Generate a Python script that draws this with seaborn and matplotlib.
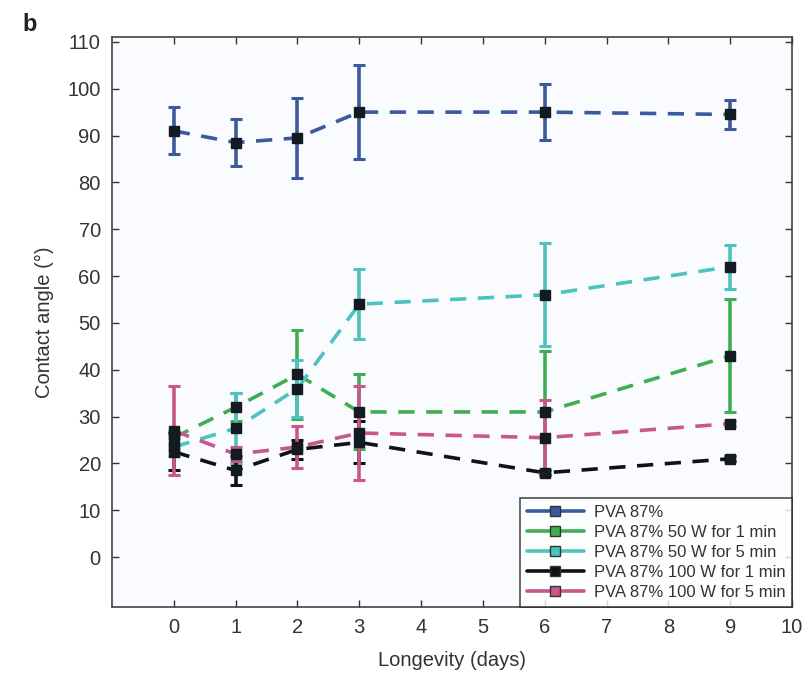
import matplotlib
matplotlib.use("Agg")
import matplotlib.pyplot as plt
from matplotlib.lines import Line2D
import seaborn as sns
import pandas as pd

# Contact angle over storage time for each treatment
days = [0, 1, 2, 3, 6, 9]
series_names = [
    "PVA 87%",
    "PVA 87% 50 W for 1 min",
    "PVA 87% 50 W for 5 min",
    "PVA 87% 100 W for 1 min",
    "PVA 87% 100 W for 5 min",
]
pva = [91, 88.5, 89.5, 95, 95, 94.5]
pva_err = [5, 5, 8.5, 10, 6, 3]
w50_1 = [25.5, 32, 39, 31, 31, 43]
w50_1_err = [1.5, 3, 9.5, 8, 13, 12]
w50_5 = [23.5, 27.5, 36, 54, 56, 62]
w50_5_err = [2, 7.5, 6, 7.5, 11, 4.7]
w100_1 = [22.5, 18.5, 23, 24.5, 18, 21]
w100_1_err = [4, 3, 2, 4.5, 0.5, 0.5]
w100_5 = [27, 22, 23.5, 26.5, 25.5, 28.5]
w100_5_err = [9.5, 1.5, 4.5, 10, 8, 0.5]

values = [pva, w50_1, w50_5, w100_1, w100_5]
errors = [pva_err, w50_1_err, w50_5_err, w100_1_err, w100_5_err]
colors = ["#3b5a9d", "#3fae52", "#4cc3bd", "#111111", "#c8578a"]

rows = []
for name, vals, errs in zip(series_names, values, errors):
    for d, v, e in zip(days, vals, errs):
        rows.append({"day": d, "angle": v, "err": e, "series": name})
df = pd.DataFrame(rows)

sns.set_theme(style="ticks")
plt.rcParams["font.family"] = ["Liberation Sans", "DejaVu Sans"]
plt.rcParams["text.color"] = "#333333"
plt.rcParams["axes.labelcolor"] = "#333333"
plt.rcParams["xtick.color"] = "#333333"
plt.rcParams["ytick.color"] = "#333333"

fig = plt.figure(figsize=(8.05, 6.88), dpi=100)
ax = fig.add_axes([0.139, 0.118, 0.845, 0.828])
ax.set_facecolor("#f9fbfe")

palette = dict(zip(series_names, colors))

# dashed traces first, so only these lines get the dash pattern
sns.lineplot(data=df, x="day", y="angle", hue="series", palette=palette,
             hue_order=series_names, linewidth=2.6, ax=ax, legend=False,
             errorbar=None, sort=True, zorder=3)
for line in ax.get_lines():
    line.set_dashes((4.5, 3.2))

# error bars for each series
for name in series_names:
    sub = df[df["series"] == name]
    ax.errorbar(sub["day"], sub["angle"], yerr=sub["err"], fmt="none",
                ecolor=palette[name], elinewidth=2.6, capsize=4.5,
                capthick=2.2, zorder=3.5)

# dark square markers on every point
for name in series_names:
    sub = df[df["series"] == name]
    ax.plot(sub["day"], sub["angle"], linestyle="none", marker="s",
            markersize=6.5, markerfacecolor="#141a22",
            markeredgecolor="#141a22", zorder=4)

ax.set_xlim(-1, 10)
ax.set_ylim(-10.6, 111)
ax.set_xticks(range(0, 11))
ax.set_yticks(range(0, 111, 10))
ax.tick_params(direction="in", top=True, right=True, length=5, width=1,
               labelsize=14.5, pad=8)
for sp in ax.spines.values():
    sp.set_color("#444444")
    sp.set_linewidth(1.2)

ax.set_xlabel("Longevity (days)", fontsize=14.5, labelpad=10)
ax.set_ylabel("Contact angle (°)", fontsize=14.5, labelpad=10)

handles = [
    Line2D([0], [0], color=c, lw=2.6, marker="s", markersize=7,
           markerfacecolor=c, markeredgecolor="#333333")
    for c in colors
]
leg = ax.legend(handles, series_names, loc="lower right", fontsize=12,
                frameon=True, fancybox=False, edgecolor="#222222",
                borderaxespad=0.0, handlelength=3.4, labelspacing=0.3,
                borderpad=0.4, handletextpad=0.6)
leg.get_frame().set_linewidth(1.2)
leg.get_frame().set_facecolor("white")

fig.text(0.028, 0.965, "b", fontsize=17, fontweight="bold", color="#222222",
         va="center")

fig.savefig("out.png", dpi=100, facecolor="white")
